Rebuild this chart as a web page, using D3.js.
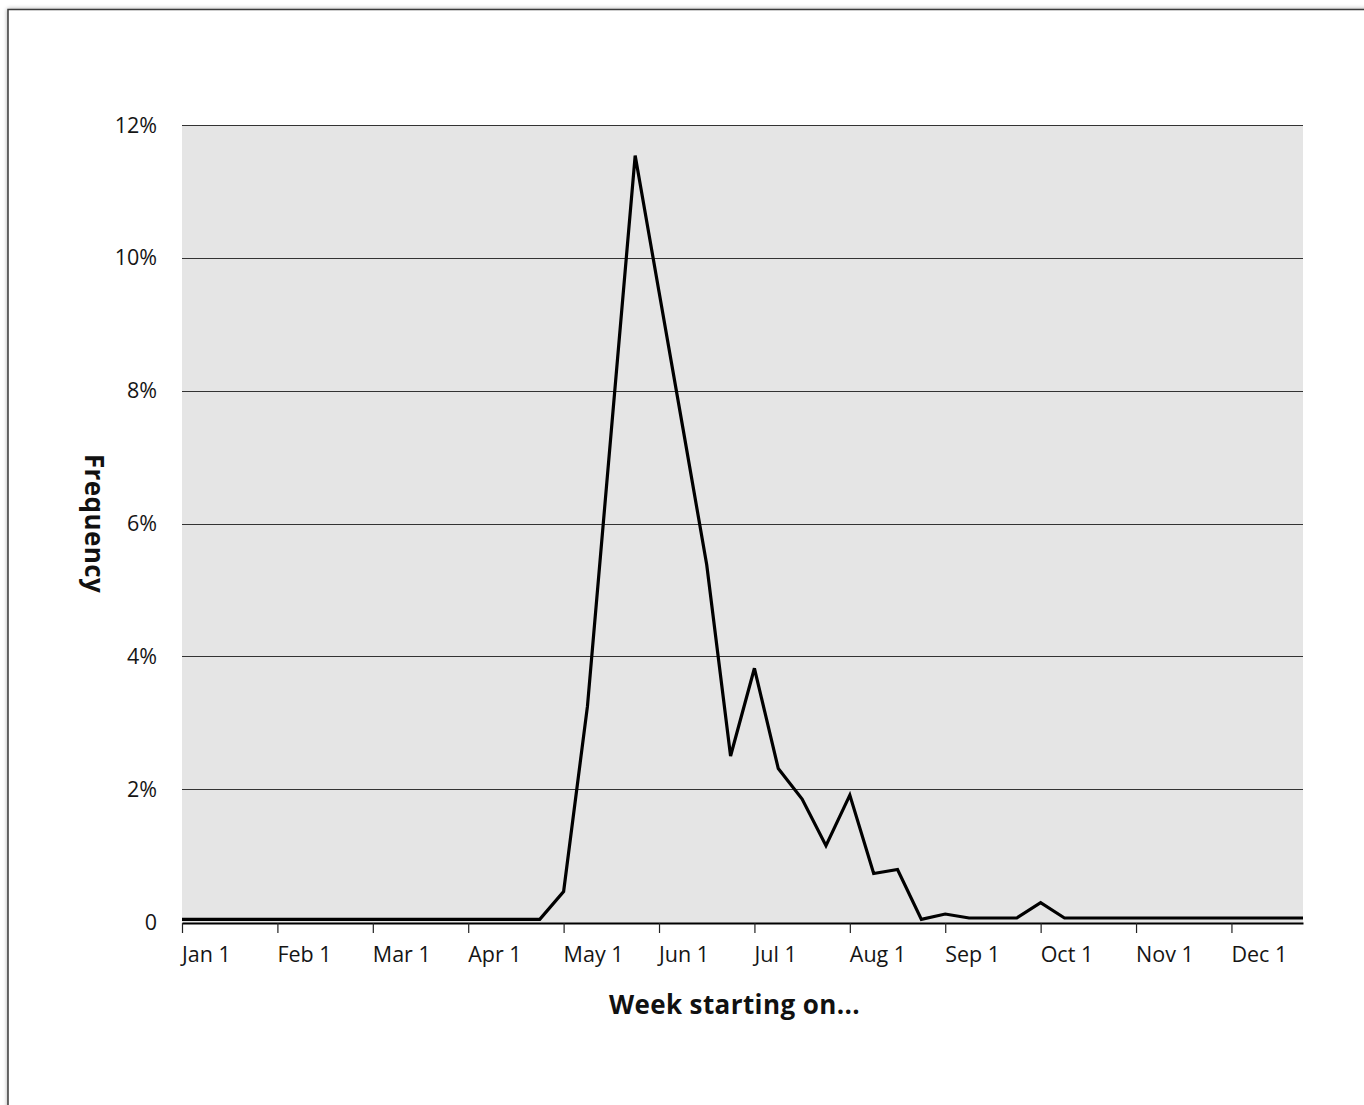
<!DOCTYPE html>
<html>
<head>
<meta charset="utf-8">
<script src="https://cdn.jsdelivr.net/npm/d3@7"></script>
<style>
    body { margin: 0; background: #fff; }
    #chart-area { width: 1364px; height: 1105px; }
    .tick-label { font-family: "Open Sans", sans-serif; font-size: 21.5px; fill: #151515; }
    .axis-title { font-family: "Open Sans", sans-serif; font-size: 26px; font-weight: bold; fill: #111; letter-spacing: 0.4px; }
</style>
</head>
<body>
<div id="chart-area"></div>
<script>

// weekly frequency (%), one value per week starting Jan 1
let frequency = [
    0.04, 0.04, 0.04, 0.04, 0.04, 0.04, 0.04, 0.04,
    0.04, 0.04, 0.04, 0.04, 0.04, 0.04, 0.04, 0.04,
    0.46, 3.25, 7.4, 11.54, 9.49, 7.44, 5.38, 2.5,
    3.82, 2.31, 1.85, 1.15, 1.91, 0.73, 0.79, 0.04,
    0.12, 0.06, 0.06, 0.06, 0.29, 0.06, 0.06, 0.06,
    0.06, 0.06, 0.06, 0.06, 0.06, 0.06, 0.06, 0.06
];

// month labels sit every 4 weeks
let monthLabels = ["Jan 1", "Feb 1", "Mar 1", "Apr 1", "May 1", "Jun 1",
                   "Jul 1", "Aug 1", "Sep 1", "Oct 1", "Nov 1", "Dec 1"];
let monthWeeks = [0, 4, 8, 12, 16, 20, 24, 28, 32, 36, 40, 44];

let yTicks = [0, 2, 4, 6, 8, 10, 12];


class LineVis {

    constructor(parentElement, data) {
        this.parentElement = parentElement;
        this.data = data;

        this.initVis();
    }

    initVis() {
        let vis = this;

        vis.margin = {top: 125, right: 61, bottom: 183, left: 182};
        vis.width = 1364 - vis.margin.left - vis.margin.right;
        vis.height = 1105 - vis.margin.top - vis.margin.bottom;

        vis.svg = d3.select("#" + vis.parentElement).append("svg")
            .attr("width", 1364)
            .attr("height", 1105);

        // page frame with a soft shadow
        let filter = vis.svg.append("defs").append("filter")
            .attr("id", "shadow")
            .attr("x", "-5%").attr("y", "-5%")
            .attr("width", "110%").attr("height", "110%");
        filter.append("feDropShadow")
            .attr("dx", 0).attr("dy", 0)
            .attr("stdDeviation", 2)
            .attr("flood-color", "#000")
            .attr("flood-opacity", 0.35);

        vis.svg.append("rect")
            .attr("x", 8)
            .attr("y", 9.5)
            .attr("width", 1420)
            .attr("height", 1200)
            .attr("fill", "#fff")
            .attr("stroke", "#3a3a3a")
            .attr("stroke-width", 1.5)
            .attr("filter", "url(#shadow)");

        vis.g = vis.svg.append("g")
            .attr("transform", "translate(" + vis.margin.left + "," + vis.margin.top + ")");

        // scales
        vis.x = d3.scaleLinear()
            .domain([0, vis.data.length - 1])
            .range([0, vis.width]);

        vis.y = d3.scaleLinear()
            .domain([0, 12])
            .range([vis.height, 0]);

        // plot background
        vis.g.append("rect")
            .attr("x", 0)
            .attr("y", 0)
            .attr("width", vis.width)
            .attr("height", vis.height + 1)
            .attr("fill", "#e5e5e5");

        // horizontal grid lines (not at 0)
        vis.g.selectAll(".grid")
            .data(yTicks.filter(d => d > 0))
            .enter()
            .append("line")
            .attr("class", "grid")
            .attr("x1", 0)
            .attr("x2", vis.width)
            .attr("y1", d => Math.round(vis.y(d)) + 0.5)
            .attr("y2", d => Math.round(vis.y(d)) + 0.5)
            .attr("stroke", "#333")
            .attr("stroke-width", 1.2);

        // y labels
        vis.g.selectAll(".y-label")
            .data(yTicks)
            .enter()
            .append("text")
            .attr("class", "tick-label")
            .attr("x", -25)
            .attr("y", d => vis.y(d))
            .attr("dy", "0.35em")
            .attr("text-anchor", "end")
            .text(d => d === 0 ? "0" : d + "%");

        // x axis
        vis.xAxis = d3.axisBottom(vis.x)
            .tickValues(monthWeeks)
            .tickSizeInner(10)
            .tickSizeOuter(0)
            .tickFormat("");

        vis.xAxisGroup = vis.g.append("g")
            .attr("class", "x-axis")
            .attr("transform", "translate(0," + (vis.height + 1) + ")")
            .call(vis.xAxis);

        vis.xAxisGroup.select(".domain")
            .attr("stroke", "#000")
            .attr("stroke-width", 2.2);
        vis.xAxisGroup.selectAll(".tick line")
            .attr("stroke", "#222")
            .attr("stroke-width", 1.2);

        // month labels start at their tick
        vis.g.selectAll(".x-label")
            .data(monthWeeks)
            .enter()
            .append("text")
            .attr("class", "tick-label")
            .attr("x", d => vis.x(d))
            .attr("y", vis.height + 40)
            .attr("text-anchor", "start")
            .text((d, i) => monthLabels[i]);

        // axis titles
        vis.g.append("text")
            .attr("class", "axis-title")
            .attr("x", vis.width / 2 - 8)
            .attr("y", vis.height + 92)
            .attr("text-anchor", "middle")
            .text("Week starting on...");

        vis.g.append("text")
            .attr("class", "axis-title")
            .attr("transform", "translate(" + (-97) + "," + (vis.height / 2) + ") rotate(90)")
            .attr("text-anchor", "middle")
            .text("Frequency");

        vis.updateVis();
    }

    updateVis() {
        let vis = this;

        vis.line = d3.line()
            .x((d, i) => vis.x(i))
            .y(d => vis.y(d));

        vis.g.append("path")
            .datum(vis.data)
            .attr("fill", "none")
            .attr("stroke", "#000")
            .attr("stroke-width", 3.2)
            .attr("stroke-linejoin", "miter")
            .attr("d", vis.line);
    }
}

let lineVis = new LineVis("chart-area", frequency);

</script>
</body>
</html>
